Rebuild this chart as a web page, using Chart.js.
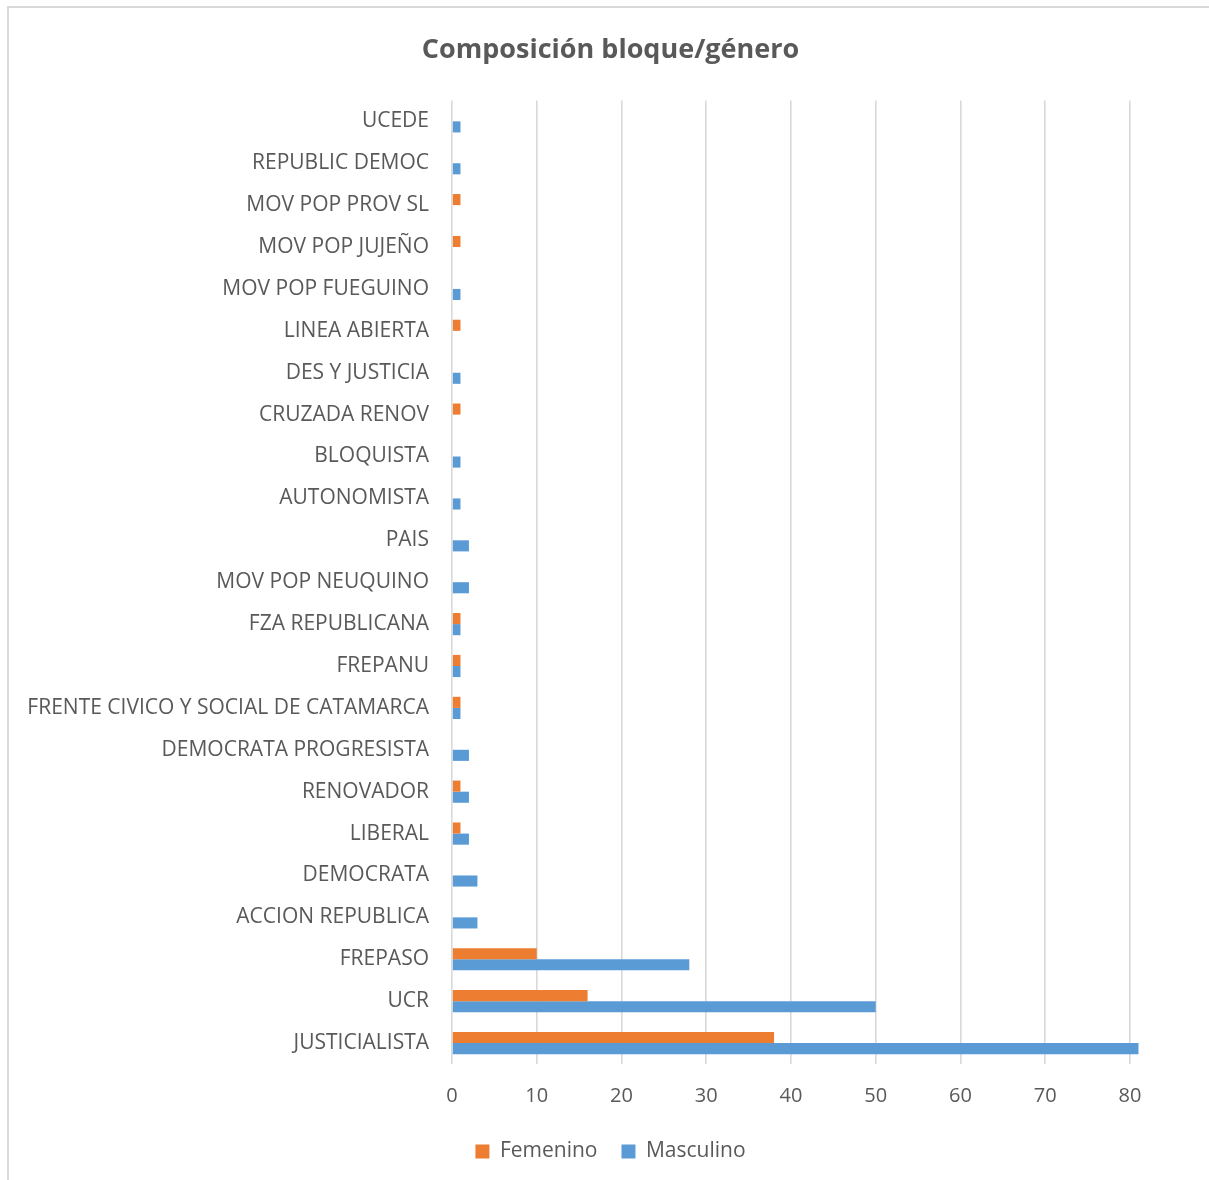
<!DOCTYPE html>
<html>
<head>
<meta charset="utf-8">
<script src="https://cdn.jsdelivr.net/npm/chart.js@4"></script>
<style>
	body { margin: 0; background: #fff; }
	#wrap { position: relative; width: 1209px; height: 1180px; }
	#frame { position: absolute; left: 7px; top: 6px; width: 1220px; height: 1200px; border: 2px solid #d9d9d9; pointer-events: none; }
</style>
</head>
<body>
<div id="wrap">
	<canvas id="myChart" width="1209" height="1180"></canvas>
	<div id="frame"></div>
</div>
<script>
const bloques = [
	"UCEDE", "REPUBLIC DEMOC", "MOV POP PROV SL", "MOV POP JUJEÑO", "MOV POP FUEGUINO",
	"LINEA ABIERTA", "DES Y JUSTICIA", "CRUZADA RENOV", "BLOQUISTA", "AUTONOMISTA",
	"PAIS", "MOV POP NEUQUINO", "FZA REPUBLICANA", "FREPANU",
	"FRENTE CIVICO Y SOCIAL DE CATAMARCA", "DEMOCRATA PROGRESISTA", "RENOVADOR",
	"LIBERAL", "DEMOCRATA", "ACCION REPUBLICA", "FREPASO", "UCR", "JUSTICIALISTA"
]
const femenino = [null, null, 1, 1, null, 1, null, 1, null, null, null, null, 1, 1, 1, null, 1, 1, null, null, 10, 16, 38]
const masculino = [1, 1, null, null, 1, null, 1, null, 1, 1, 2, 2, 1, 1, 1, 2, 2, 2, 3, 3, 28, 50, 81]
const xTicks = [0, 10, 20, 30, 40, 50, 60, 70, 80]

const GRIS = "#595959"
const FUENTE = "'Open Sans', sans-serif"

let MYCHART = new Chart("myChart", {
	type: "bar",
	data: {
		labels: bloques,
		datasets: [
			{
				label: "Femenino",
				data: femenino,
				backgroundColor: "#ed7d31",
				clip: false
			},
			{
				label: "Masculino",
				data: masculino,
				backgroundColor: "#5b9bd5",
				clip: false
			}
		]
	},
	options: {
		indexAxis: "y",
		responsive: false,
		animation: false,
		categoryPercentage: 0.53,
		barPercentage: 1,
		layout: { padding: { left: 12, right: 0, top: 0, bottom: 8 } },
		plugins: {
			title: {
				display: true,
				text: "Composición bloque/género",
				color: GRIS,
				font: { family: FUENTE, size: 27, weight: "bold" },
				padding: { top: 34, bottom: 34 }
			},
			legend: {
				position: "bottom",
				labels: {
					color: GRIS,
					font: { family: FUENTE, size: 21 },
					boxWidth: 14,
					boxHeight: 14,
					padding: 24
				}
			},
			tooltip: { enabled: false }
		},
		scales: {
			x: {
				min: 0,
				max: 80,
				afterBuildTicks: (scale) => { scale.ticks = xTicks.map(v => ({ value: v })) },
				grid: { color: "#d9d9d9", lineWidth: 1.6, drawTicks: false },
				border: { display: false },
				ticks: { color: GRIS, font: { family: FUENTE, size: 20 }, padding: 20 },
				afterFit: (scale) => { scale.height = 53 }
			},
			y: {
				grid: { display: false },
				border: { display: false },
				ticks: { color: GRIS, font: { family: FUENTE, size: 21 }, padding: 15 },
				afterFit: (scale) => { scale.width = 440 }
			},
			derecha: {
				type: "category",
				axis: "y",
				position: "right",
				display: true,
				grid: { display: false },
				border: { display: false },
				ticks: { display: false },
				afterFit: (scale) => { scale.width = 79 }
			}
		}
	}
})
</script>
</body>
</html>
